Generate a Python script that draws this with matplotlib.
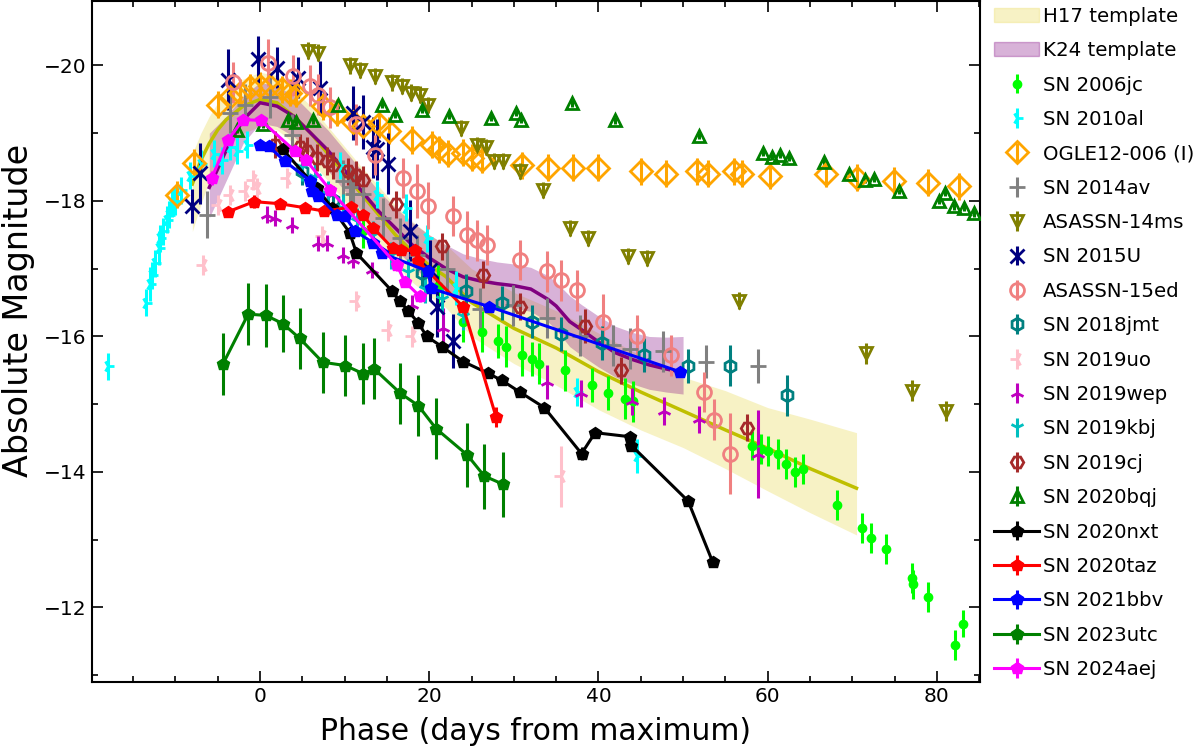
import numpy as np
import matplotlib
matplotlib.use("Agg")
import matplotlib.pyplot as plt
from matplotlib.ticker import MultipleLocator
from matplotlib.patches import Patch

# ---- templates (phase, mag, lower, upper) ----
h17_x = [-8, -7, -6, -5, -4, -2, 0, 2, 4, 6, 8, 10, 12, 14, 16, 18, 20, 22, 25, 30, 35, 40, 45, 50, 55, 60, 65, 70.5]
h17_y = [-18.25, -18.6, -18.85, -19.05, -19.2, -19.4, -19.5, -19.45, -19.25, -19.0, -18.7, -18.4, -18.1, -17.8,
         -17.5, -17.25, -17.05, -16.88, -16.5, -16.12, -15.83, -15.48, -15.18, -14.9, -14.62, -14.35, -14.05, -13.76]
h17_lo = [-18.7, -19.0, -19.25, -19.45, -19.6, -19.8, -19.9, -19.85, -19.65, -19.4, -19.1, -18.8, -18.5, -18.22,
          -17.93, -17.7, -17.5, -17.35, -17.0, -16.65, -16.38, -16.05, -15.72, -15.4, -15.2, -14.95, -14.78, -14.58]
h17_hi = [-17.55, -17.95, -18.3, -18.6, -18.8, -19.0, -19.1, -19.05, -18.85, -18.6, -18.3, -18.0, -17.7, -17.38,
          -17.07, -16.8, -16.6, -16.42, -16.0, -15.6, -15.28, -14.92, -14.62, -14.36, -14.05, -13.72, -13.4, -13.07]

k24_x = [-6, -4, -2, 0, 2, 4, 6, 8, 10, 12, 14, 16, 18, 20, 22, 24, 26, 28, 30, 32, 34, 35, 36.6, 38, 40, 42, 44, 46, 48, 50]
k24_y = [-18.2, -18.75, -19.2, -19.45, -19.4, -19.25, -19.0, -18.75, -18.45, -18.15, -17.85, -17.6, -17.35, -17.16,
         -17.0, -16.88, -16.82, -16.78, -16.75, -16.7, -16.55, -16.45, -16.22, -16.1, -15.92, -15.76, -15.66, -15.58,
         -15.52, -15.47]
k24_lo = [-19.0, -19.25, -19.55, -19.75, -19.7, -19.55, -19.3, -19.05, -18.75, -18.45, -18.15, -17.9, -17.68, -17.5,
          -17.35, -17.22, -17.15, -17.1, -17.07, -17.02, -16.9, -16.8, -16.6, -16.47, -16.3, -16.15, -16.06, -16.0,
          -15.99, -16.0]
k24_hi = [-17.75, -18.3, -18.85, -19.15, -19.1, -18.95, -18.7, -18.45, -18.15, -17.85, -17.55, -17.3, -17.03, -16.83,
          -16.66, -16.54, -16.48, -16.45, -16.42, -16.37, -16.22, -16.1, -15.85, -15.72, -15.55, -15.4, -15.3, -15.22,
          -15.18, -15.15]

# ---- comparison objects (phase, mag, error) ----
sn2006jc_x = [12.2, 21.0, 24.0, 26.2, 28.1, 29.1, 31.0, 32.1, 33.0, 36.0, 39.2, 41.1, 43.1, 44.1, 58.1, 59.2, 60.0,
              61.2, 62.2, 63.2, 64.2, 68.2, 71.2, 72.2, 74.0, 77.1, 77.2, 79.0, 82.1, 83.1]
sn2006jc_y = [-17.55, -16.75, -16.22, -16.07, -15.93, -15.85, -15.72, -15.67, -15.6, -15.5, -15.28, -15.17, -15.08,
              -15.04, -14.39, -14.34, -14.31, -14.26, -14.12, -14.0, -14.04, -13.51, -13.17, -13.02, -12.86, -12.44,
              -12.34, -12.16, -11.45, -11.76]
sn2006jc_e = [0.25, 0.3, 0.3, 0.3, 0.25, 0.3, 0.3, 0.25, 0.3, 0.3, 0.25, 0.25, 0.3, 0.3, 0.22, 0.22, 0.22, 0.22, 0.22,
              0.22, 0.22, 0.22, 0.22, 0.22, 0.22, 0.22, 0.22, 0.22, 0.22, 0.2]

sn2010al_x = [-18.0, -13.5, -13.0, -12.8, -12.4, -12.0, -11.8, -11.5, -11.0, -10.8, -10.4, -10.0, -9.4, -8.3, -7.0,
              -5.5, -4.5, -3.5, -2.7, -1.5, 9.4, 13.8, 17.3, 19.7, 23.2, 37.5, 44.5]
sn2010al_y = [-15.56, -16.5, -16.78, -16.9, -17.08, -17.3, -17.45, -17.55, -17.72, -17.8, -17.97, -18.0, -18.16,
              -18.37, -18.55, -18.7, -18.6, -18.8, -18.74, -18.83, -18.53, -18.09, -17.9, -17.45, -16.71, -15.18,
              -14.24]
sn2010al_e = [0.2, 0.2, 0.25, 0.2, 0.2, 0.25, 0.2, 0.2, 0.2, 0.2, 0.2, 0.2, 0.2, 0.2, 0.2, 0.2, 0.2, 0.2, 0.2, 0.2,
              0.2, 0.2, 0.2, 0.2, 0.25, 0.2, 0.25]

ogle_x = [-9.8, -7.8, -5.0, -3.5, -2.4, -1.2, 0.0, 1.2, 2.6, 3.5, 4.3, 7.5, 9.1, 11.0, 12.2, 14.1, 15.3, 18.0, 20.3,
          21.2, 22.2, 24.0, 25.1, 26.2, 31.0, 34.0, 37.0, 40.0, 45.0, 48.0, 51.7, 53.0, 56.0, 57.0, 60.3, 66.9, 70.6,
          74.9, 79.0, 82.6]
ogle_y = [-18.09, -18.56, -19.42, -19.53, -19.6, -19.68, -19.7, -19.7, -19.65, -19.6, -19.58, -19.4, -19.3, -19.16,
          -19.1, -19.13, -19.04, -18.9, -18.83, -18.76, -18.7, -18.71, -18.64, -18.61, -18.53, -18.49, -18.49, -18.49,
          -18.44, -18.4, -18.44, -18.4, -18.44, -18.4, -18.37, -18.4, -18.34, -18.3, -18.27, -18.22]
ogle_e = [0.2, 0.2, 0.2, 0.2, 0.2, 0.2, 0.2, 0.2, 0.2, 0.2, 0.2, 0.2, 0.2, 0.2, 0.2, 0.2, 0.2, 0.2, 0.2, 0.2, 0.2,
          0.2, 0.2, 0.2, 0.2, 0.2, 0.2, 0.2, 0.2, 0.2, 0.2, 0.2, 0.2, 0.2, 0.2, 0.2, 0.2, 0.2, 0.2, 0.2]

sn2014av_x = [-6.3, -3.5, -1.8, 1.2, 3.8, 9.8, 10.6, 11.0, 12.2, 14.5, 16.5, 18.5, 22.1, 26.0, 29.9, 33.9, 37.8,
              41.7, 43.7, 47.6, 52.7, 58.8]
sn2014av_y = [-17.8, -19.3, -19.42, -19.53, -18.98, -18.3, -18.2, -18.1, -18.1, -17.75, -17.45, -17.2, -17.0, -16.41,
              -16.46, -16.27, -16.01, -15.87, -15.82, -15.78, -15.63, -15.56]
sn2014av_e = [0.35, 0.3, 0.3, 0.3, 0.3, 0.3, 0.3, 0.3, 0.3, 0.3, 0.3, 0.3, 0.35, 0.3, 0.3, 0.3, 0.3, 0.3, 0.3, 0.3,
              0.25, 0.25]

asassn14ms_x = [5.7, 6.8, 10.6, 11.8, 13.6, 15.6, 16.8, 17.9, 18.9, 19.8, 23.7, 25.6, 26.7, 27.6, 28.7, 30.7, 33.5,
                36.6, 38.8, 43.5, 45.7, 56.6, 71.6, 77.1, 81.1]
asassn14ms_y = [-20.22, -20.19, -20.0, -19.93, -19.85, -19.75, -19.7, -19.6, -19.57, -19.42, -19.08, -18.83, -18.8,
                -18.59, -18.59, -18.44, -18.16, -17.6, -17.45, -17.19, -17.16, -16.53, -15.75, -15.2, -14.9]
asassn14ms_e = [0.12, 0.12, 0.12, 0.12, 0.12, 0.12, 0.12, 0.12, 0.12, 0.12, 0.12, 0.12, 0.12, 0.12, 0.12, 0.12,
                0.12, 0.12, 0.12, 0.12, 0.12, 0.12, 0.15, 0.15, 0.15]

sn2015u_x = [-8.0, -7.1, -3.8, -0.2, 2.0, 4.5, 7.1, 11.0, 12.2, 13.3, 13.8, 15.1, 17.7, 20.1, 20.9, 22.8]
sn2015u_y = [-17.93, -18.41, -19.79, -20.09, -19.97, -19.82, -19.67, -19.3, -19.16, -18.79, -18.76, -18.55, -17.56,
             -16.98, -16.44, -15.93]
sn2015u_e = [0.25, 0.45, 0.45, 0.35, 0.3, 0.3, 0.4, 0.4, 0.4, 0.45, 0.45, 0.45, 0.45, 0.45, 0.45, 0.4]

asassn15ed_x = [-3.2, 0.9, 3.9, 5.9, 6.8, 8.3, 11.4, 13.6, 16.9, 18.6, 19.9, 22.8, 24.5, 25.6, 26.8, 30.7, 33.9,
                35.6, 37.5, 40.5, 44.5, 48.6, 52.5, 53.7, 55.6]
asassn15ed_y = [-19.75, -20.04, -19.85, -19.7, -19.57, -19.38, -19.13, -18.68, -18.34, -18.15, -17.93, -17.78, -17.5,
                -17.42, -17.35, -17.13, -16.96, -16.83, -16.68, -16.22, -16.01, -15.72, -15.18, -14.77, -14.27]
asassn15ed_e = [0.3, 0.35, 0.3, 0.3, 0.3, 0.3, 0.3, 0.3, 0.3, 0.4, 0.35, 0.3, 0.35, 0.3, 0.3, 0.3, 0.3, 0.3, 0.3,
                0.4, 0.3, 0.3, 0.3, 0.3, 0.6]

sn2018jmt_x = [5.0, 8.6, 19.2, 24.4, 28.6, 32.1, 35.6, 40.4, 45.4, 50.6, 55.6, 62.3]
sn2018jmt_y = [-18.44, -18.02, -16.93, -16.67, -16.49, -16.22, -16.04, -15.9, -15.72, -15.56, -15.57, -15.13]
sn2018jmt_e = [0.2, 0.2, 0.2, 0.25, 0.25, 0.25, 0.25, 0.25, 0.25, 0.25, 0.3, 0.3]

sn2019uo_x = [-6.8, -5.0, -3.5, -1.8, -0.8, -0.4, 3.2, 7.3, 11.4, 15.1, 18.0, 35.6]
sn2019uo_y = [-17.05, -17.94, -18.09, -18.15, -18.31, -18.19, -18.34, -17.48, -16.52, -16.09, -16.0, -13.94]
sn2019uo_e = [0.15, 0.15, 0.15, 0.15, 0.15, 0.15, 0.15, 0.15, 0.15, 0.15, 0.15, 0.45]

sn2019wep_x = [0.8, 1.8, 3.8, 6.8, 7.9, 9.8, 11.0, 13.2, 18.0, 21.6, 33.9, 37.9, 44.0, 47.8, 51.9, 58.9]
sn2019wep_y = [-17.8, -17.75, -17.64, -17.38, -17.38, -17.2, -17.13, -16.98, -16.46, -16.12, -15.33, -15.16, -15.04,
               -14.9, -14.78, -14.27]
sn2019wep_e = [0.12, 0.12, 0.12, 0.12, 0.12, 0.12, 0.12, 0.12, 0.15, 0.3, 0.25, 0.2, 0.2, 0.2, 0.2, 0.65]

sn2019kbj_x = [5.0, 6.5, 8.0, 9.8, 11.5, 13.4, 15.5, 17.5, 19.5, 21.5, 24.0]
sn2019kbj_y = [-18.5, -18.35, -18.1, -17.9, -17.7, -17.5, -17.2, -16.95, -16.7, -16.55, -16.3]
sn2019kbj_e = [0.2, 0.2, 0.2, 0.2, 0.2, 0.2, 0.2, 0.2, 0.2, 0.2, 0.2]

sn2019cj_x = [1.8, 4.7, 5.5, 6.7, 7.9, 8.6, 10.4, 11.4, 12.2, 16.1, 21.5, 26.3, 30.7, 38.4, 42.7, 57.6]
sn2019cj_y = [-18.83, -18.79, -18.74, -18.64, -18.59, -18.53, -18.44, -18.39, -18.31, -17.95, -17.33, -16.91,
              -16.44, -16.15, -15.5, -14.65]
sn2019cj_e = [0.2, 0.2, 0.2, 0.2, 0.2, 0.2, 0.2, 0.2, 0.2, 0.2, 0.2, 0.2, 0.2, 0.25, 0.2, 0.2]

sn2020bqj_x = [-2.7, 0.4, 3.3, 4.3, 6.3, 9.2, 14.4, 16.0, 19.2, 22.3, 27.3, 30.2, 30.9, 36.9, 41.9, 51.9, 59.5,
               60.5, 61.5, 62.5, 66.7, 69.6, 71.5, 72.6, 75.5, 80.2, 81.0, 82.0, 83.2, 84.4]
sn2020bqj_y = [-19.05, -19.13, -19.19, -19.16, -19.19, -19.41, -19.42, -19.27, -19.35, -19.26, -19.23, -19.3, -19.2,
               -19.44, -19.19, -18.96, -18.71, -18.65, -18.68, -18.64, -18.58, -18.4, -18.31, -18.33, -18.15, -18.0,
               -18.12, -17.92, -17.9, -17.82]
sn2020bqj_e = [0.05, 0.05, 0.05, 0.05, 0.05, 0.05, 0.05, 0.05, 0.05, 0.05, 0.05, 0.05, 0.05, 0.05, 0.05, 0.05,
               0.05, 0.05, 0.05, 0.05, 0.05, 0.05, 0.05, 0.05, 0.05, 0.05, 0.05, 0.05, 0.05, 0.05]

# ---- this work ----
sn2020nxt_x = [2.7, 6.7, 8.5, 10.6, 11.4, 15.6, 16.5, 17.5, 18.7, 19.7, 21.5, 24.0, 26.9, 28.6, 30.7, 33.6, 38.0,
               39.6, 43.7, 43.9, 50.6, 53.5]
sn2020nxt_y = [-18.76, -18.19, -17.9, -17.53, -17.23, -16.67, -16.52, -16.38, -16.2, -16.0, -15.85, -15.63, -15.46,
               -15.35, -15.18, -14.95, -14.27, -14.58, -14.52, -14.39, -13.57, -12.67]
sn2020nxt_e = [0.05, 0.05, 0.05, 0.05, 0.05, 0.05, 0.05, 0.05, 0.05, 0.05, 0.05, 0.05, 0.05, 0.05, 0.05, 0.05, 0.1,
               0.05, 0.05, 0.05, 0.05, 0.05]

sn2020taz_x = [-3.8, -0.7, 2.3, 5.3, 7.6, 10.8, 12.2, 13.4, 15.7, 16.7, 18.3, 18.7, 24.0, 27.9]
sn2020taz_y = [-17.84, -17.99, -17.96, -17.9, -17.85, -17.91, -17.79, -17.6, -17.3, -17.27, -17.27, -17.11, -16.44,
               -14.81]
sn2020taz_e = [0.05, 0.1, 0.05, 0.05, 0.05, 0.05, 0.05, 0.05, 0.05, 0.05, 0.05, 0.05, 0.05, 0.15]

sn2021bbv_x = [0.0, 1.0, 2.9, 5.9, 6.1, 6.9, 9.1, 10.0, 11.2, 13.4, 14.4, 19.9, 20.2, 27.1, 49.6]
sn2021bbv_y = [-18.83, -18.81, -18.59, -18.3, -18.15, -18.07, -17.79, -17.78, -17.56, -17.38, -17.23, -16.96,
               -16.71, -16.44, -15.48]
sn2021bbv_e = [0.05, 0.05, 0.05, 0.05, 0.05, 0.05, 0.05, 0.05, 0.05, 0.05, 0.05, 0.05, 0.05, 0.05, 0.05]

sn2023utc_x = [-4.4, -1.4, 0.7, 2.7, 4.7, 7.4, 10.1, 12.2, 13.5, 16.6, 18.7, 20.8, 24.5, 26.5, 28.7]
sn2023utc_y = [-15.59, -16.33, -16.31, -16.19, -15.97, -15.62, -15.57, -15.45, -15.52, -15.16, -14.98, -14.64,
               -14.25, -13.94, -13.82]
sn2023utc_e = [0.46, 0.46, 0.46, 0.42, 0.45, 0.45, 0.45, 0.45, 0.45, 0.45, 0.45, 0.45, 0.47, 0.48, 0.48]

sn2024aej_x = [-5.7, -3.8, -2.0, 0.1, 4.1, 5.4, 8.3, 16.2, 17.1, 18.9]
sn2024aej_y = [-18.34, -18.9, -19.2, -19.19, -18.74, -18.61, -18.16, -17.05, -16.81, -16.59]
sn2024aej_e = [0.1, 0.08, 0.08, 0.08, 0.08, 0.08, 0.08, 0.08, 0.08, 0.08]

fig = plt.figure(figsize=(12, 7.49), dpi=100)
ax = fig.add_axes([0.0764, 0.0895, 0.7403, 0.909])

# templates
ax.fill_between(h17_x, h17_lo, h17_hi, color="khaki", alpha=0.5, lw=0, zorder=1)
ax.plot(h17_x, h17_y, color="y", lw=2.5, zorder=2)
ax.fill_between(k24_x, k24_lo, k24_hi, color="purple", alpha=0.3, lw=0, zorder=1)
ax.plot(k24_x, k24_y, color="purple", lw=2.5, zorder=2)

comparisons = [
    ("SN 2006jc", sn2006jc_x, sn2006jc_y, sn2006jc_e, "o", "lime", 5, True),
    ("SN 2010al", sn2010al_x, sn2010al_y, sn2010al_e, "4", "cyan", 9, True),
    ("OGLE12-006 (I)", ogle_x, ogle_y, ogle_e, "D", "orange", 11, False),
    ("SN 2014av", sn2014av_x, sn2014av_y, sn2014av_e, "+", "grey", 12, True),
    ("ASASSN-14ms", asassn14ms_x, asassn14ms_y, asassn14ms_e, "v", "olive", 9, False),
    ("SN 2015U", sn2015u_x, sn2015u_y, sn2015u_e, "x", "navy", 10, True),
    ("ASASSN-15ed", asassn15ed_x, asassn15ed_y, asassn15ed_e, "o", "lightcoral", 10, False),
    ("SN 2018jmt", sn2018jmt_x, sn2018jmt_y, sn2018jmt_e, "h", "teal", 9, False),
    ("SN 2019uo", sn2019uo_x, sn2019uo_y, sn2019uo_e, "3", "pink", 10, True),
    ("SN 2019wep", sn2019wep_x, sn2019wep_y, sn2019wep_e, "2", "m", 10, True),
    ("SN 2019kbj", sn2019kbj_x, sn2019kbj_y, sn2019kbj_e, "1", "c", 10, True),
    ("SN 2019cj", sn2019cj_x, sn2019cj_y, sn2019cj_e, "H", "brown", 9, False),
    ("SN 2020bqj", sn2020bqj_x, sn2020bqj_y, sn2020bqj_e, "^", "green", 9, False),
]

handles = [Patch(color="khaki", alpha=0.5, label="H17 template"),
           Patch(color="purple", alpha=0.3, label="K24 template")]

for label, x, y, e, mk, col, ms, filled in comparisons:
    h = ax.errorbar(x, y, yerr=e, fmt=mk, color=col, ms=ms, mew=2, elinewidth=2.2, capsize=0,
                    mfc=col if filled else "none", ls="none", zorder=3, label=label)
    handles.append(h)

ours = [
    ("SN 2020nxt", sn2020nxt_x, sn2020nxt_y, sn2020nxt_e, "black"),
    ("SN 2020taz", sn2020taz_x, sn2020taz_y, sn2020taz_e, "red"),
    ("SN 2021bbv", sn2021bbv_x, sn2021bbv_y, sn2021bbv_e, "blue"),
    ("SN 2023utc", sn2023utc_x, sn2023utc_y, sn2023utc_e, "green"),
    ("SN 2024aej", sn2024aej_x, sn2024aej_y, sn2024aej_e, "magenta"),
]
for label, x, y, e, col in ours:
    h = ax.errorbar(x, y, yerr=e, fmt="p-", color=col, ms=9, lw=2.2, elinewidth=2.2, capsize=0,
                    zorder=4, label=label)
    handles.append(h)

ax.set_xlim(-19.9, 85.1)
ax.set_ylim(-10.9, -20.95)
ax.xaxis.set_major_locator(MultipleLocator(20))
ax.xaxis.set_minor_locator(MultipleLocator(5))
ax.yaxis.set_major_locator(MultipleLocator(2))
ax.yaxis.set_minor_locator(MultipleLocator(1))
ax.tick_params(which="both", direction="in", top=True, right=True, labelsize=14.5, width=1.2)
ax.tick_params(which="major", length=8)
ax.tick_params(which="minor", length=4)
for s in ax.spines.values():
    s.set_linewidth(1.5)

ax.set_xlabel("Phase (days from maximum)", fontsize=21.5)
ax.set_ylabel("Absolute Magnitude", fontsize=24)
ax.xaxis.set_label_coords(0.5, -0.052)
ax.yaxis.set_label_coords(-0.064, 0.545)

ax.legend(handles=handles, loc="upper left", bbox_to_anchor=(1.0, 1.012), frameon=False,
          fontsize=14.2, labelspacing=0.78, handlelength=2.3, handletextpad=0.2, borderaxespad=0.3)

fig.savefig("out.png", dpi=100)
